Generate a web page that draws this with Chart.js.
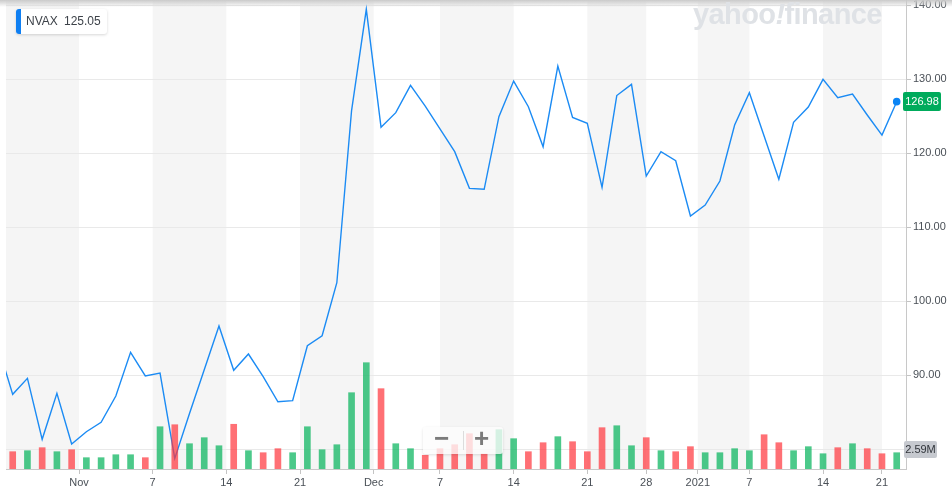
<!DOCTYPE html>
<html>
<head>
<meta charset="utf-8">
<script src="https://cdn.jsdelivr.net/npm/chart.js@4.4.1/dist/chart.umd.min.js"></script>
<style>
  html, body { margin: 0; padding: 0; background: #fff; }
  #wrap { position: relative; width: 952px; height: 490px; overflow: hidden; font-family: "Liberation Sans", Arial, sans-serif; }
  #chart { position: absolute; left: 0; top: 0; }
  .topshade { position: absolute; left: 0; top: 0; width: 952px; height: 7px; background: linear-gradient(#cacaca, rgba(255,255,255,0)); }
  .legend { position: absolute; left: 16px; top: 9px; width: 91px; height: 25px; background: #fff; border-radius: 3px;
            box-shadow: 0 1px 3px rgba(0,0,0,0.16); font-size: 12px; color: #3d4249; line-height: 25px; white-space: nowrap; }
  .legend .mark { position: absolute; left: 0; top: 0; width: 5px; height: 25px; background: #0f7ff2; border-radius: 3px 0 0 3px; }
  .legend .sym { position: absolute; left: 10px; }
  .legend .val { position: absolute; left: 48px; }
  .brand { position: absolute; left: 693px; top: -2px; font-size: 29px; font-weight: bold; color: #dfe2e6; letter-spacing: -0.6px; }
  .brand i { font-style: italic; }
  .zoom { position: absolute; left: 423px; top: 427px; width: 80px; height: 27px; background: rgba(252,252,252,0.78);
          border-radius: 3px; box-shadow: 0 1px 3px rgba(0,0,0,0.12); color: #7b7b7b; font-weight: bold; font-size: 26px; }
  .zoom .sep { position: absolute; left: 40px; top: 4px; width: 1px; height: 19px; background: #dcdcdc; }
  .zoom .minus { position: absolute; left: 11px; top: -4px; }
  .zoom .plus { position: absolute; left: 51px; top: -4px; }
</style>
</head>
<body>
<div id="wrap">
  <canvas id="chart" width="952" height="490"></canvas>
  <div class="topshade"></div>
  <div class="brand">yahoo<i>!</i>finance</div>
  <div class="legend"><span class="mark"></span><span class="sym">NVAX</span><span class="val">125.05</span></div>
  <div class="zoom"><span class="minus">−</span><span class="sep"></span><span class="plus">+</span></div>
</div>
<script>
// trading days shown (first one sits just left of the plot)
const dates = [
  "2020-10-23",
  "2020-10-26", "2020-10-27", "2020-10-28", "2020-10-29", "2020-10-30",
  "2020-11-02", "2020-11-03", "2020-11-04", "2020-11-05", "2020-11-06",
  "2020-11-09", "2020-11-10", "2020-11-11", "2020-11-12", "2020-11-13",
  "2020-11-16", "2020-11-17", "2020-11-18", "2020-11-19", "2020-11-20",
  "2020-11-23", "2020-11-24", "2020-11-25", "2020-11-27", "2020-11-30",
  "2020-12-01", "2020-12-02", "2020-12-03", "2020-12-04",
  "2020-12-07", "2020-12-08", "2020-12-09", "2020-12-10", "2020-12-11",
  "2020-12-14", "2020-12-15", "2020-12-16", "2020-12-17", "2020-12-18",
  "2020-12-21", "2020-12-22", "2020-12-23", "2020-12-24",
  "2020-12-28", "2020-12-29", "2020-12-30", "2020-12-31",
  "2021-01-04", "2021-01-05", "2021-01-06", "2021-01-07", "2021-01-08",
  "2021-01-11", "2021-01-12", "2021-01-13", "2021-01-14", "2021-01-15",
  "2021-01-19", "2021-01-20", "2021-01-21", "2021-01-22"
];

// closing price, USD
const closes = [
  93.96,
  87.43, 89.59, 81.35, 87.57, 80.72,
  82.38, 83.65, 87.20, 93.11, 89.91,
  90.31, 78.78, 84.85, 90.76, 96.66,
  90.68, 92.88, 89.81, 86.43, 86.57,
  94.00, 95.35, 102.51, 125.78, 139.46,
  123.51, 125.49, 129.19, 126.39,
  123.32, 120.22, 115.27, 115.14, 124.95,
  129.77, 126.30, 120.89, 131.80, 124.86,
  124.05, 115.41, 127.81, 129.32,
  116.93, 120.22, 119.00, 111.53,
  113.00, 116.26, 123.82, 128.19, 122.34,
  116.49, 124.19, 126.26, 130.00, 127.51,
  128.01, 125.18, 122.47, 126.98
];

// volume, millions of shares
const volumesM = [
  null,
  2.75, 2.91, 3.39, 2.75, 3.07,
  1.80, 1.80, 2.27, 2.27, 1.80,
  6.72, 7.04, 4.02, 4.98, 3.70,
  7.11, 2.91, 2.59, 3.23, 2.59,
  6.72, 3.07, 3.86, 12.13, 16.90,
  12.77, 4.02, 3.23, 2.18,
  3.23, 3.86, 5.61, 2.38, 6.25,
  4.82, 2.75, 4.18, 5.14, 4.34,
  2.75, 6.57, 6.88, 3.70,
  4.98, 2.91, 2.75, 3.55,
  2.59, 2.59, 3.23, 2.91, 5.45,
  4.18, 2.91, 3.55, 2.43, 3.39,
  4.02, 3.23, 2.43, 2.59
];

// x-axis ticks, as positions in the trading-day index
const tickPositions = [5.5, 10.5, 15.5, 20.5, 25.5, 30, 35, 40, 44, 47.5, 51, 56, 60];
const tickLabels = ["Nov", "7", "14", "21", "Dec", "7", "14", "21", "28", "2021", "7", "14", "21"];

const priceTicks = [80, 90, 100, 110, 120, 130, 140];

const UP = "rgba(0,178,89,0.7)";
const DOWN = "rgba(255,51,58,0.7)";
const LAST = closes.length - 1;

const priceData = closes.map((c, i) => ({ x: i, y: c }));
const volumeData = volumesM.map((v, i) => ({ x: i, y: v }));
const volumeColors = closes.map((c, i) => (i > 0 && c < closes[i - 1]) ? DOWN : UP);

const tickFont = { family: "'Liberation Sans', Arial, sans-serif", size: 11 };
const tickColor = "#4a5057";

// alternating weekly background bands between tick positions
const bandsPlugin = {
  id: "bands",
  beforeDraw(chart) {
    const { ctx, chartArea: a, scales: { x } } = chart;
    ctx.save();
    ctx.fillStyle = "#fff";
    ctx.fillRect(0, 0, chart.width, chart.height);
    const edges = [x.min, ...tickPositions, x.max];
    ctx.fillStyle = "#f5f5f5";
    for (let i = 0; i < edges.length - 1; i += 2) {
      const x0 = Math.max(a.left, x.getPixelForValue(edges[i]));
      const x1 = Math.min(a.right, x.getPixelForValue(edges[i + 1]));
      ctx.fillRect(x0, a.top, x1 - x0, a.bottom - a.top);
    }
    ctx.restore();
  }
};

function drawTag(ctx, left, cy, w, h, bg, fg, text) {
  ctx.save();
  ctx.fillStyle = bg;
  ctx.beginPath();
  ctx.roundRect(left, Math.round(cy - h / 2), w, h, 2);
  ctx.fill();
  ctx.fillStyle = fg;
  ctx.font = "11px 'Liberation Sans', Arial, sans-serif";
  ctx.textAlign = "center";
  ctx.textBaseline = "middle";
  ctx.fillText(text, left + w / 2, cy + 0.5);
  ctx.restore();
}

// last price and last volume tags on the right axis
const tagsPlugin = {
  id: "tags",
  afterDraw(chart) {
    const { ctx, scales: { y, vol } } = chart;
    drawTag(ctx, 903, y.getPixelForValue(closes[LAST]), 38, 19, "#00ab5c", "#fff", closes[LAST].toFixed(2));
    drawTag(ctx, 904, vol.getPixelForValue(volumesM[LAST]) - 3, 33, 17, "#c6c9cf", "#30343a", volumesM[LAST].toFixed(2) + "M");
  }
};

new Chart(document.getElementById("chart"), {
  data: {
    datasets: [
      {
        type: "line",
        data: priceData,
        yAxisID: "y",
        borderColor: "#1b8bf4",
        borderWidth: 1.4,
        tension: 0,
        clip: 0,
        order: 2,
        pointRadius: ctx => ctx.dataIndex === LAST ? 3.8 : 0,
        pointBackgroundColor: "#0a84f5",
        pointBorderWidth: 0
      },
      {
        type: "bar",
        data: volumeData,
        yAxisID: "vol",
        backgroundColor: volumeColors,
        barThickness: 6,
        order: 1
      }
    ]
  },
  options: {
    responsive: false,
    animation: false,
    layout: { autoPadding: false, padding: { left: 6, top: 0, right: 0, bottom: 0 } },
    plugins: { legend: { display: false }, tooltip: { enabled: false } },
    scales: {
      x: {
        type: "linear",
        position: "bottom",
        offset: false,
        min: 0.545,
        max: 61.631,
        afterBuildTicks: s => { s.ticks = tickPositions.map(v => ({ value: v })); },
        afterFit: s => { s.height = 21; s.paddingLeft = 0; s.paddingRight = 0; },
        ticks: {
          autoSkip: false,
          maxRotation: 0,
          padding: 2,
          font: tickFont,
          color: tickColor,
          callback: (v, i) => tickLabels[i]
        },
        grid: { drawOnChartArea: false, offset: false, tickLength: 5, tickColor: "#c4c4c4" },
        border: { color: "#c8c8c8" }
      },
      y: {
        type: "linear",
        position: "right",
        min: 77.34,
        max: 140.72,
        afterBuildTicks: s => { s.ticks = priceTicks.map(v => ({ value: v })); },
        afterFit: s => { s.width = 46; s.paddingTop = 0; s.paddingBottom = 0; },
        ticks: {
          padding: 2,
          font: tickFont,
          color: tickColor,
          callback: v => v === 80 ? "" : v.toFixed(2)
        },
        grid: { color: "#e9e9e9", tickLength: 5, tickColor: "#c4c4c4" },
        border: { color: "#c8c8c8" }
      },
      vol: {
        type: "linear",
        display: false,
        min: 0,
        max: 74.56
      }
    }
  },
  plugins: [bandsPlugin, tagsPlugin]
});
</script>
</body>
</html>
